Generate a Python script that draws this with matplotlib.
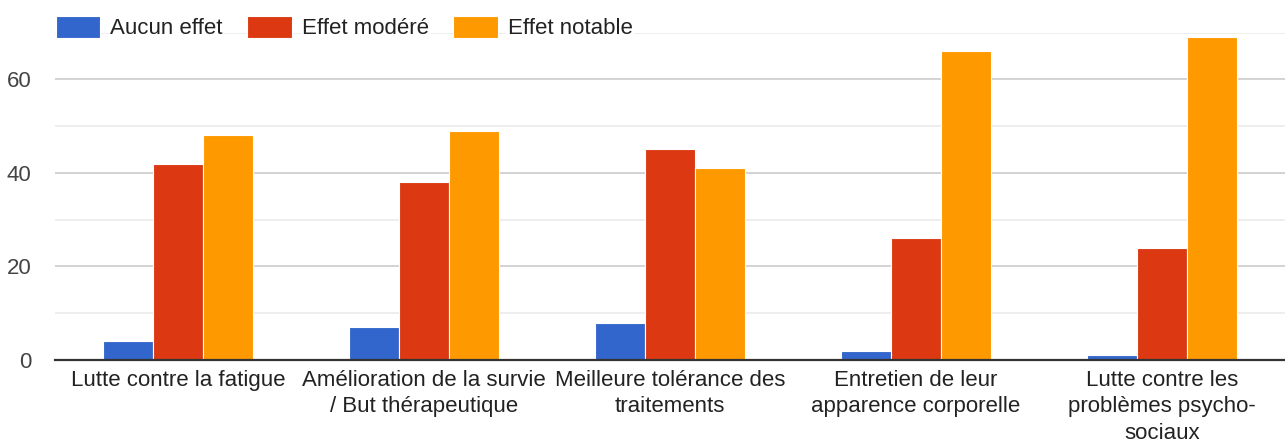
import matplotlib.pyplot as plt
import numpy as np

plt.rcParams['font.family'] = ['Liberation Sans', 'DejaVu Sans']

categories = ["Lutte contre la fatigue",
              "Amélioration de la survie\n/ But thérapeutique",
              "Meilleure tolérance des\ntraitements",
              "Entretien de leur\napparence corporelle",
              "Lutte contre les\nproblèmes psycho-\nsociaux"]
series = ["Aucun effet", "Effet modéré", "Effet notable"]
aucun = [4, 7, 8, 2, 1]
modere = [42, 38, 45, 26, 24]
notable = [48, 49, 41, 66, 69]
colors = ["#3366cc", "#dc3912", "#ff9900"]

fig = plt.figure(figsize=(12.85, 4.46), dpi=100)
ax = fig.add_axes([0.0428, 0.193, 0.9572, 0.734])

x = np.arange(len(categories))
w = 0.203
for i, (vals, name, c) in enumerate(zip([aucun, modere, notable], series, colors)):
    ax.bar(x + (i - 1) * w, vals, w, color=c, label=name,
           edgecolor='white', linewidth=0.8, zorder=3)

ax.set_xlim(-0.5, len(categories) - 0.5)
ax.set_ylim(0, 70)
ax.set_yticks([0, 20, 40, 60])
ax.set_yticks([10, 30, 50, 70], minor=True)
ax.grid(axis='y', which='major', color='#cccccc', linewidth=1.2, zorder=0)
ax.grid(axis='y', which='minor', color='#ebebeb', linewidth=1.2, zorder=0)
ax.set_xticks(x)
ax.set_xticklabels(categories, fontsize=16, color='#222222', linespacing=1.36)
ax.tick_params(axis='both', which='both', length=0, labelsize=16)
ax.tick_params(axis='y', colors='#444444', pad=17)
ax.tick_params(axis='x', pad=7)
for s in ['top', 'right', 'left']:
    ax.spines[s].set_visible(False)
ax.spines['bottom'].set_color('#333333')
ax.spines['bottom'].set_linewidth(1.6)
ax.spines['bottom'].set_zorder(4)

leg = fig.legend(loc='center left', bbox_to_anchor=(56 / 1285, 0.938), ncol=3,
                 frameon=False, fontsize=16, handlelength=2.0,
                 handleheight=1.15, handletextpad=0.45, columnspacing=1.1,
                 borderpad=0, borderaxespad=0)
for t in leg.get_texts():
    t.set_color('#222222')
    t.set_bbox(dict(facecolor='white', edgecolor='none', pad=1))

fig.savefig('out.png', dpi=100)
